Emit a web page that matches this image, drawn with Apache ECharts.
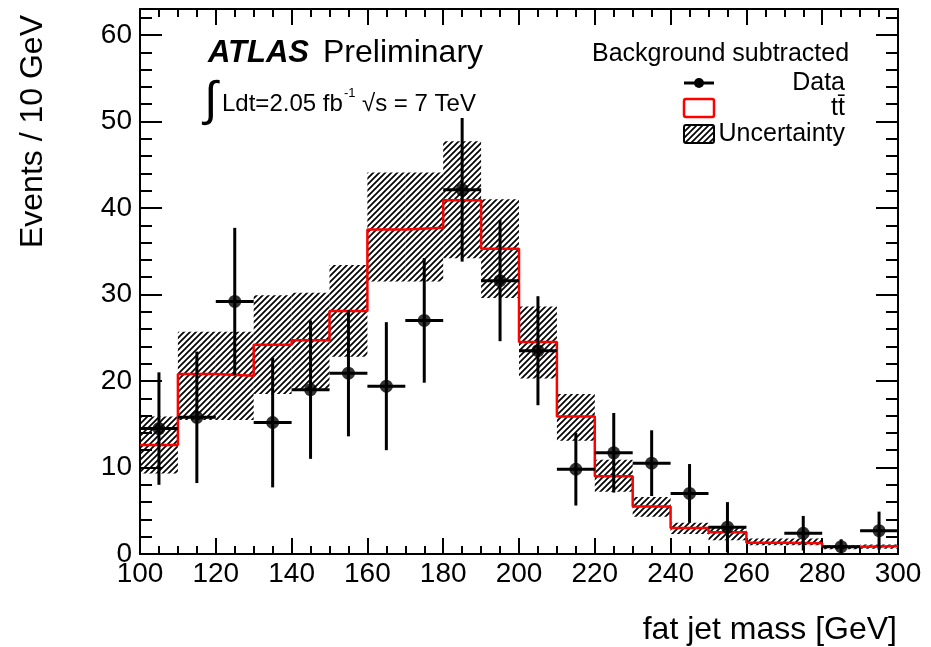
<!DOCTYPE html>
<html>
<head>
<meta charset="utf-8">
<script src="https://cdn.jsdelivr.net/npm/echarts@6/dist/echarts.min.js"></script>
<style>
  html, body { margin: 0; padding: 0; background: #fff; }
  #chart { width: 931px; height: 647px; }
</style>
</head>
<body>
<div id="chart"></div>
<script>
// fat jet mass distribution, 10 GeV bins (background subtracted)
const binLow = [100, 110, 120, 130, 140, 150, 160, 170, 180, 190,
                200, 210, 220, 230, 240, 250, 260, 270, 280, 290];
const binWidth = 10;

// data points and their errors (null = no point drawn)
const dataY   = [14.5, 15.8, 29.2, 15.2, 19.0, 20.9, 19.4, 27.0, 42.1, 31.6,
                 23.5, 9.8, 11.7, 10.5, 7.0, 3.1, null, 2.4, 0.85, 2.7];
const dataErr = [6.5, 7.6, 8.5, 7.5, 8.0, 7.3, 7.4, 7.2, 8.3, 7.0,
                 6.3, 4.2, 4.6, 3.8, 3.4, 2.9, null, 2.0, 0.85, 2.2];

// ttbar prediction
const ttbar = [12.6, 20.8, 20.6, 24.2, 24.7, 28.1, 37.5, 37.7, 40.9, 35.3,
               24.5, 15.9, 9.0, 5.5, 3.0, 2.5, 1.3, 1.25, 0.85, 0.9];

// uncertainty band
const uncLow  = [9.3, 15.5, 15.5, 18.5, 19.0, 22.8, 31.5, 31.5, 34.2, 29.6,
                 20.3, 13.1, 7.2, 4.3, 2.3, 1.6, 1.0, 1.0, 0.55, 0.6];
const uncHigh = [15.9, 25.7, 25.7, 29.9, 30.2, 33.4, 44.1, 44.1, 47.7, 41.0,
                 28.6, 18.5, 10.9, 6.6, 3.6, 3.2, 1.8, 1.8, 1.0, 1.1];

const xTicks = [100, 120, 140, 160, 180, 200, 220, 240, 260, 280, 300];
const yTicks = [0, 10, 20, 30, 40, 50, 60];
const yMinorTicks = [2, 4, 6, 8, 12, 14, 16, 18, 22, 24, 26, 28, 32, 34, 36, 38,
                     42, 44, 46, 48, 52, 54, 56, 58, 62];

const FONT = "'Liberation Sans', Arial, Helvetica, sans-serif";

// diagonal hatch like ROOT fill style
function makeHatch() {
  const c = document.createElement('canvas');
  c.width = 6;
  c.height = 6;
  const ctx = c.getContext('2d');
  ctx.strokeStyle = '#000';
  ctx.lineWidth = 1.7;
  ctx.beginPath();
  ctx.moveTo(0, 6); ctx.lineTo(6, 0);
  ctx.moveTo(-1, 1); ctx.lineTo(1, -1);
  ctx.moveTo(5, 7); ctx.lineTo(7, 5);
  ctx.stroke();
  return c;
}
const hatch = { image: makeHatch(), repeat: 'repeat' };

const bandData = binLow.map((x, i) => [x, x + binWidth, uncLow[i], uncHigh[i]]);
const histData = binLow.map((x, i) => [x, ttbar[i]]);
histData.push([binLow[binLow.length - 1] + binWidth, ttbar[ttbar.length - 1]]);
const pointData = [];
binLow.forEach((x, i) => {
  if (dataY[i] != null) pointData.push([x + binWidth / 2, dataY[i], dataErr[i]]);
});

const axisLine = { show: true, onZero: false, lineStyle: { color: '#000', width: 2 } };
const labelStyle = { color: '#000', fontSize: 28, fontFamily: FONT };

function xAxis(pos) {
  return {
    type: 'value', position: pos, min: 100, max: 300, interval: 20,
    axisLine: axisLine,
    axisTick: { inside: true, length: 16, lineStyle: { color: '#000', width: 2 } },
    minorTick: { show: true, splitNumber: 4, length: 8, lineStyle: { color: '#000', width: 2 } },
    axisLabel: pos === 'bottom'
      ? Object.assign({ margin: 6, customValues: xTicks }, labelStyle)
      : { show: false },
    splitLine: { show: false }
  };
}
function yAxis(pos, minor) {
  return {
    type: 'value', position: pos, min: 0, max: 63,
    axisLine: minor ? { show: false, onZero: false } : axisLine,
    axisTick: {
      inside: true, length: minor ? 12 : 22,
      customValues: minor ? yMinorTicks : yTicks,
      lineStyle: { color: '#000', width: 2 }
    },
    axisLabel: (!minor && pos === 'left')
      ? Object.assign({ margin: 8, customValues: yTicks }, labelStyle)
      : { show: false },
    splitLine: { show: false }
  };
}

const option = {
  animation: false,
  backgroundColor: '#fff',
  grid: { left: 140, right: 33, top: 9, bottom: 93 },
  xAxis: [xAxis('bottom'), xAxis('top')],
  yAxis: [yAxis('left', false), yAxis('left', true), yAxis('right', false), yAxis('right', true)],
  series: [
    {
      // uncertainty band
      type: 'custom',
      clip: true,
      z: 1,
      data: bandData,
      encode: { x: [0, 1], y: [2, 3] },
      renderItem: function (params, api) {
        const p0 = api.coord([api.value(0), api.value(3)]);
        const p1 = api.coord([api.value(1), api.value(2)]);
        return {
          type: 'rect',
          shape: { x: p0[0], y: p0[1], width: p1[0] - p0[0], height: p1[1] - p0[1] },
          style: { fill: hatch, stroke: null }
        };
      }
    },
    {
      // ttbar
      type: 'line',
      step: 'end',
      z: 3,
      data: histData,
      showSymbol: false,
      lineStyle: { color: '#ff0000', width: 2.5 }
    },
    {
      // data error bars
      type: 'custom',
      clip: true,
      z: 4,
      data: pointData,
      encode: { x: 0, y: 1 },
      renderItem: function (params, api) {
        const x = api.value(0), y = api.value(1), e = api.value(2);
        const top = api.coord([x, y + e]);
        const bot = api.coord([x, y - e]);
        const l = api.coord([x - binWidth / 2, y]);
        const r = api.coord([x + binWidth / 2, y]);
        const st = { stroke: '#000', lineWidth: 3 };
        return {
          type: 'group',
          children: [
            { type: 'line', shape: { x1: top[0], y1: top[1], x2: bot[0], y2: bot[1] }, style: st },
            { type: 'line', shape: { x1: l[0], y1: l[1], x2: r[0], y2: r[1] }, style: st }
          ]
        };
      }
    },
    {
      type: 'scatter',
      z: 5,
      data: pointData.map(d => [d[0], d[1]]),
      symbol: 'circle',
      symbolSize: 13,
      itemStyle: { color: '#000' }
    }
  ],
  graphic: [
    { type: 'text', x: 208, y: 53, z: 100,
      style: { text: 'ATLAS', fontFamily: FONT, fontSize: 31, fontWeight: 'bold', fontStyle: 'italic', fill: '#000', verticalAlign: 'middle' } },
    { type: 'text', x: 323, y: 53, z: 100,
      style: { text: 'Preliminary', fontFamily: FONT, fontSize: 32, fill: '#000', verticalAlign: 'middle' } },
    { type: 'text', x: 204, y: 102, z: 100,
      style: { text: '∫', fontFamily: FONT, fontSize: 48, fill: '#000', verticalAlign: 'middle' } },
    { type: 'text', x: 222, y: 104, z: 100,
      style: { text: 'Ldt=2.05 fb', fontFamily: FONT, fontSize: 24, fill: '#000', verticalAlign: 'middle' } },
    { type: 'text', x: 344, y: 93, z: 100,
      style: { text: '-1', fontFamily: FONT, fontSize: 13, fill: '#000', verticalAlign: 'middle' } },
    { type: 'text', x: 362, y: 104, z: 100,
      style: { text: '√s = 7 TeV', fontFamily: FONT, fontSize: 24, fill: '#000', verticalAlign: 'middle' } },

    // axis titles
    { type: 'text', x: 33, y: 15, rotation: Math.PI / 2, z: 100,
      style: { text: 'Events / 10 GeV', fontFamily: FONT, fontSize: 32, fill: '#000', align: 'right', verticalAlign: 'middle' } },
    { type: 'text', x: 897, y: 630, z: 100,
      style: { text: 'fat jet mass [GeV]', fontFamily: FONT, fontSize: 32, fill: '#000', align: 'right', verticalAlign: 'middle' } },

    // legend
    { type: 'text', x: 592, y: 54, z: 100,
      style: { text: 'Background subtracted', fontFamily: FONT, fontSize: 25, fill: '#000', verticalAlign: 'middle' } },
    { type: 'line', z: 100, shape: { x1: 684, y1: 83, x2: 714, y2: 83 }, style: { stroke: '#000', lineWidth: 3 } },
    { type: 'circle', z: 100, shape: { cx: 699, cy: 83, r: 5 }, style: { fill: '#000' } },
    { type: 'text', x: 845, y: 83, z: 100,
      style: { text: 'Data', fontFamily: FONT, fontSize: 25, fill: '#000', align: 'right', verticalAlign: 'middle' } },
    { type: 'rect', z: 100, shape: { x: 684, y: 99, width: 30, height: 18, r: 2 },
      style: { fill: 'transparent', stroke: '#ff0000', lineWidth: 2.5 } },
    { type: 'text', x: 845, y: 108, z: 100,
      style: { text: 'tt\u0304', fontFamily: FONT, fontSize: 25, fill: '#000', align: 'right', verticalAlign: 'middle' } },
    { type: 'rect', z: 100, shape: { x: 684, y: 125, width: 30, height: 18, r: 2 },
      style: { fill: hatch, stroke: '#000', lineWidth: 2 } },
    { type: 'text', x: 845, y: 134, z: 100,
      style: { text: 'Uncertainty', fontFamily: FONT, fontSize: 25, fill: '#000', align: 'right', verticalAlign: 'middle' } }
  ]
};

const chart = echarts.init(document.getElementById('chart'));
chart.setOption(option);
</script>
</body>
</html>
